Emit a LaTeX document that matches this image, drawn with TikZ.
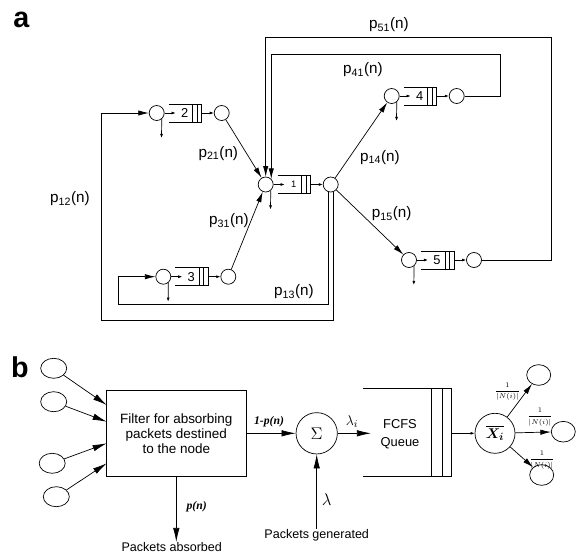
\documentclass[tikz,border=0pt]{standalone}
\usepackage{amsmath}
\usepackage{amssymb}
\usepackage{fontspec}
\setmainfont{Liberation Sans}
\newfontfamily\tms{Liberation Serif}
\usetikzlibrary{arrows.meta, calc, shapes.geometric}

% one station: input server, queue, output server
\newcommand{\station}[4]{%
  \begin{scope}[shift={(#2,#3)}]
    \node[srv] (in#1) at (0,0) {};
    \node[srv] (out#1) at (65,0) {};
    \coordinate (qa#1) at (19,0);
    \coordinate (qe#1) at (45,0);
    \coordinate (dr#1) at (4.8,25);
    \draw (12,-9) -- (45,-9) -- (45,9) -- (12,9);
    \draw (36,-9) -- (36,9) (40.5,-9) -- (40.5,9);
    \node[qlab] (lab#1) at (28,0) {#4};
    \draw[tiny] (in#1) -- (qa#1);
    \draw[tiny] (qe#1) -- (out#1);
    \draw[tiny] (in#1.-50) -- (dr#1);
  \end{scope}}

\begin{document}
\begin{tikzpicture}[x=0.03cm, y=-0.03cm, line width=0.6pt,
    >={Latex[length=9pt,width=4.5pt]},
    srv/.style={circle, draw, minimum size=0.45cm, inner sep=0pt},
    qlab/.style={font=\fontsize{11}{12}\selectfont, inner sep=0pt},
    lbl/.style={font=\fontsize{13}{15}\selectfont, inner sep=0pt},
    tiny/.style={-{Latex[length=3.5pt,width=2.5pt]}},
    bigarr/.style={-{Latex[length=12pt,width=5.5pt]}},
    src/.style={ellipse, draw, minimum width=0.78cm, minimum height=0.6cm, inner sep=0pt},
    dst/.style={ellipse, draw, minimum width=0.72cm, minimum height=0.62cm, inner sep=0pt},
    txt/.style={font=\fontsize{10.7}{12.8}\selectfont, inner sep=0pt},
    ilbl/.style={font=\tms\bfseries\itshape\fontsize{10}{12}\selectfont, inner sep=0pt},
    wlbl/.style={font=\fontsize{6.5}{7.5}\selectfont, inner sep=0pt},
    panel/.style={font=\bfseries\fontsize{24.5}{27}\selectfont, inner sep=0pt}]
  \useasboundingbox (0,0) rectangle (582,554);

  % ---- a ----
  \node[panel] (pa) at (21.3,20) {a};

  % Stations
  \station{2}{156.7}{113}{2}
  \station{1}{265.7}{184.5}{\fontsize{8}{9}\selectfont 1}
  \station{3}{163.3}{276.7}{3}
  \station{4}{391.7}{96}{4}
  \station{5}{409}{260}{5}

  % Routing
  \draw[->] (out2) -- (in1);
  \draw[->] (out3) -- (in1);
  \draw[->] (out1) -- (in4);
  \draw[->] (out1) -- (in5);

  % Feedback loops
  \coordinate (c41) at (500,54);
  \coordinate (c51) at (551.7,37);
  \coordinate (c13) at (118.3,304);
  \coordinate (c12) at (101.7,320);
  \draw[->] (out4) -| (c41) -| (in1.north east);
  \draw[->] (out5) -| (c51) -| (in1.north);
  \draw[->] (out1.-110) |- (c13) |- (in3);
  \draw[->] (out1.-70) |- (c12) |- (in2);

  % Probabilities
  \node[lbl] (l21) at (218.3,153.3) {p\textsubscript{21}(n)};
  \node[lbl] (l31) at (229,220.8) {p\textsubscript{31}(n)};
  \node[lbl] (l14) at (380,157.5) {p\textsubscript{14}(n)};
  \node[lbl] (l15) at (391.7,214) {p\textsubscript{15}(n)};
  \node[lbl] (l13) at (294,291.7) {p\textsubscript{13}(n)};
  \node[lbl] (l12) at (70,199) {p\textsubscript{12}(n)};
  \node[lbl] (l41) at (363,70) {p\textsubscript{41}(n)};
  \node[lbl] (l51) at (389,25) {p\textsubscript{51}(n)};

  % ---- b ----
  \node[panel] (pb) at (20,367.5) {b};

  % Incoming links and filter
  \node[src] (s1) at (53.7,368.3) {};
  \node[src] (s2) at (53.7,401.7) {};
  \node[src] (s3) at (52.2,463.3) {};
  \node[src] (s4) at (56.3,496.7) {};
  \node[draw, minimum width=4.18cm, minimum height=2.6cm, align=center,
        font=\fontsize{11.5}{12.8}\selectfont] (filt) at (176.3,433.3)
        {Filter for absorbing\\packets destined\\to the node};
  \coordinate (f1) at (106.7,405);
  \coordinate (f2) at (106.7,421.7);
  \coordinate (f3) at (106.7,443.3);
  \coordinate (f4) at (106.7,463.3);
  \draw[bigarr] (s1) -- (f1);
  \draw[bigarr] (s2) -- (f2);
  \draw[bigarr] (s3) -- (f3);
  \draw[bigarr] (s4) -- (f4);

  \node[txt] (absorb) at (171.7,547) {Packets absorbed};
  \draw[bigarr] (filt.south) -- (filt.south |- absorb.north);
  \node[ilbl] (pn) at (196.7,506.7) {p(n)};

  % Sum
  \node[circle, draw, minimum size=1.24cm, inner sep=0pt,
        font=\fontsize{14}{16}\selectfont] (sum) at (316.7,433.3) {$\Sigma$};
  \draw[bigarr] (filt) -- (sum);
  \node[ilbl] (onep) at (269,422) {1-p(n)};
  \node[txt] (gen) at (316.7,535) {Packets generated};
  \draw[bigarr] (gen) -- (sum);
  \node[inner sep=0pt, font=\fontsize{14}{16}\selectfont] (lam) at (326.7,500) {$\lambda$};

  % FCFS queue
  \draw (363.3,388.3) -- (451.7,388.3) -- (451.7,476) -- (363.3,476);
  \draw (431.7,388.3) -- (431.7,476) (442.3,388.3) -- (442.3,476);
  \node[txt, align=center, font=\fontsize{11}{15}\selectfont] (fcfs) at (400,434) {FCFS\\Queue};
  \coordinate (qin) at (371,433.3);
  \coordinate (qout) at (451.7,433.3);
  \draw[bigarr] (sum) -- (qin);
  \node[inner sep=0pt, font=\fontsize{13}{15}\selectfont] (lami) at (352,421.7) {$\lambda_i$};

  % Service and forwarding
  \node[circle, draw, minimum size=1.2cm, inner sep=0pt,
        font=\fontsize{12.5}{14}\selectfont] (xi) at (495,433.3) {$\boldsymbol{\overline{X_i}}$};
  \draw[tiny] (qout) -- (xi);
  \node[dst] (o1) at (538.7,375) {};
  \node[dst] (o2) at (563.3,431.7) {};
  \node[dst] (o3) at (541.7,475) {};
  \draw[->] (xi) -- (o1);
  \draw[->] (xi) -- (o2);
  \draw[->] (xi) -- (o3);
  \node[wlbl] (w1) at (507.5,391.7) {$\dfrac{1}{|N(i)|}$};
  \node[wlbl] (w2) at (540,417) {$\dfrac{1}{|N(i)|}$};
  \node[wlbl] (w3) at (542,460) {$\dfrac{1}{|N(i)|}$};
\end{tikzpicture}
\end{document}
